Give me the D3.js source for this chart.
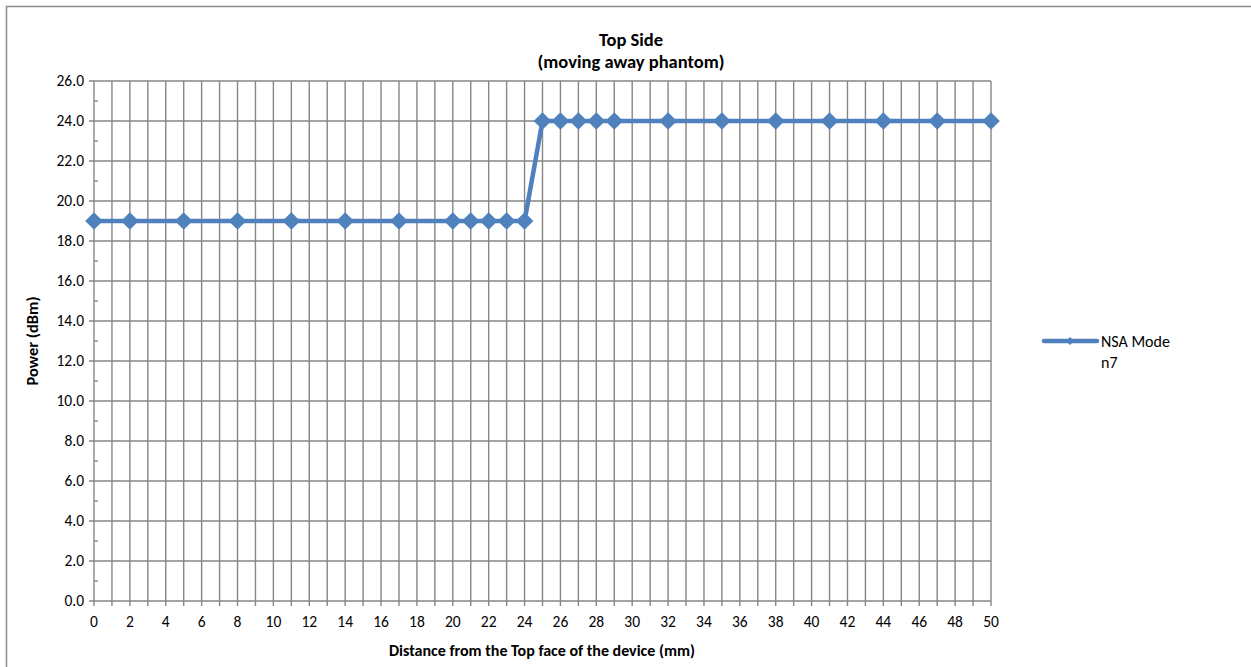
<!DOCTYPE html>
<html><head><meta charset="utf-8">
<script src="https://cdn.jsdelivr.net/npm/d3@7"></script>
<style>body{margin:0;background:#fff}svg{display:block}text{font-family:Carlito,Calibri,Lato,"Open Sans",sans-serif;fill:#000}</style>
</head><body><svg id="c" width="1251" height="667"></svg>
<script>
const distances = [0,2,5,8,11,14,17,20,21,22,23,24,25,26,27,28,29,32,35,38,41,44,47,50];
const powers = [19,19,19,19,19,19,19,19,19,19,19,19,24,24,24,24,24,24,24,24,24,24,24,24];
const seriesName = ["NSA Mode", "n7"];
const titleLines = ["Top Side", "(moving away phantom)"];
const xTitle = "Distance from the Top face of the device (mm)";
const yTitle = "Power (dBm)";
const xMajorTicks = d3.range(0, 51, 2);
const xMinorTicks = d3.range(0, 51, 1);
const yMajorTicks = d3.range(0, 27, 2);
const yMinorTicks = d3.range(1, 26, 2);

const svg = d3.select("#c");
const grid = "#868686";
svg.append("rect").attr("x",6.5).attr("y",6.5).attr("width",1300).attr("height",700)
  .attr("fill","none").attr("stroke","#8c8c8c").attr("stroke-width",1.5);

const L=94, R=991, T=81, B=601;
const x = d3.scaleLinear().domain([0,50]).range([L,R]);
const y = d3.scaleLinear().domain([0,26]).range([B,T]);

svg.append("g").selectAll("line").data(xMinorTicks).join("line")
  .attr("x1",d=>x(d)).attr("x2",d=>x(d)).attr("y1",T).attr("y2",B+5)
  .attr("stroke",grid).attr("stroke-width",1.4);
svg.append("g").selectAll("line").data(yMajorTicks).join("line")
  .attr("x1",L-5).attr("x2",R).attr("y1",d=>y(d)).attr("y2",d=>y(d))
  .attr("stroke",grid).attr("stroke-width",1.4);
svg.append("g").selectAll("line").data(yMinorTicks).join("line")
  .attr("x1",L).attr("x2",L+4).attr("y1",d=>y(d)).attr("y2",d=>y(d))
  .attr("stroke",grid).attr("stroke-width",1.4);

svg.append("g").selectAll("text").data(yMajorTicks).join("text")
  .attr("x",L-10).attr("y",d=>y(d)).attr("dy","0.35em").attr("text-anchor","end")
  .attr("font-size",15.5).text(d=>d.toFixed(1));
svg.append("g").selectAll("text").data(xMajorTicks).join("text")
  .attr("x",d=>x(d)).attr("y",B+21).attr("dy","0.35em").attr("text-anchor","middle")
  .attr("font-size",15.5).text(d=>d);

svg.append("g").selectAll("text").data(titleLines).join("text")
  .attr("x",631).attr("y",(d,i)=>40+i*22).attr("dy","0.35em").attr("text-anchor","middle")
  .attr("font-size",18.5).attr("font-weight","bold").text(d=>d);
svg.append("text").attr("x",542).attr("y",650).attr("dy","0.35em").attr("text-anchor","middle")
  .attr("font-size",16).attr("font-weight","bold").text(xTitle);
svg.append("text").attr("transform","translate(32,341) rotate(-90)").attr("dy","0.35em")
  .attr("text-anchor","middle").attr("font-size",16.5).attr("font-weight","bold").text(yTitle);

const color = "#4F81BD";
const data = distances.map((d,i)=>({x:d,y:powers[i]}));
svg.append("path").datum(data).attr("fill","none").attr("stroke",color).attr("stroke-width",4.5)
  .attr("stroke-linejoin","round")
  .attr("d",d3.line().x(d=>x(d.x)).y(d=>y(d.y)));
const diamond = d3.symbol().type(d3.symbolDiamond2).size(200);
svg.append("g").selectAll("path").data(data).join("path")
  .attr("transform",d=>`translate(${x(d.x)},${y(d.y)})`)
  .attr("d",diamond).attr("fill",color);

svg.append("line").attr("x1",1044).attr("x2",1097).attr("y1",341).attr("y2",341)
  .attr("stroke",color).attr("stroke-width",4.5).attr("stroke-linecap","round");
svg.append("path").attr("transform","translate(1070,341)")
  .attr("d",d3.symbol().type(d3.symbolDiamond2).size(40)).attr("fill",color);
svg.append("g").selectAll("text").data(seriesName).join("text")
  .attr("x",1101).attr("y",(d,i)=>341+i*21).attr("dy","0.35em")
  .attr("font-size",16).text(d=>d);
</script></body></html>
